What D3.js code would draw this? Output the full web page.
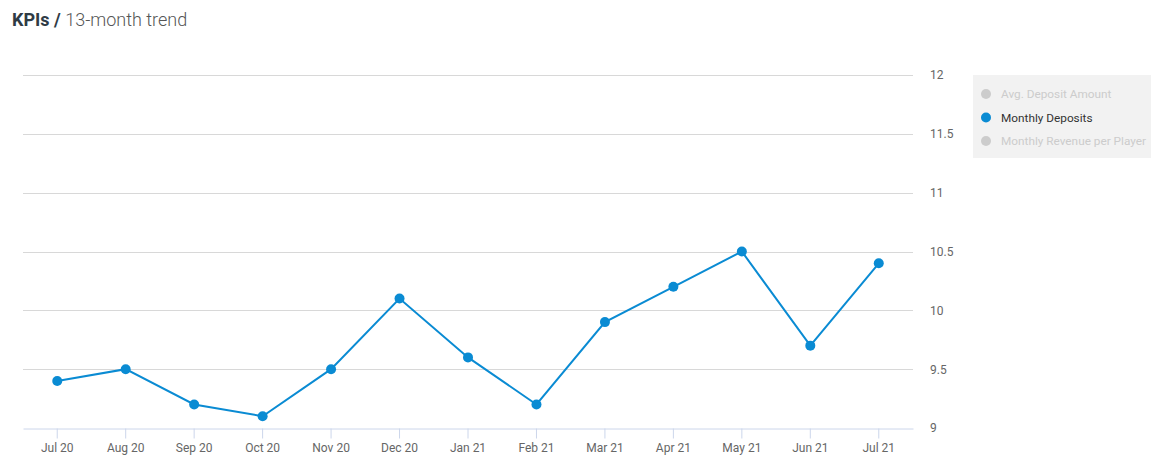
<!DOCTYPE html>
<html><head><meta charset="utf-8">
<script src="https://cdn.jsdelivr.net/npm/d3@7/dist/d3.min.js"></script>
<style>body{margin:0;background:#fff;font-family:Roboto,"Noto Sans",sans-serif;}</style>
</head><body>
<svg id="c" width="1155" height="463"></svg>
<script>
const categories = ["Jul 20","Aug 20","Sep 20","Oct 20","Nov 20","Dec 20","Jan 21","Feb 21","Mar 21","Apr 21","May 21","Jun 21","Jul 21"];
const monthlyDeposits = [9.4,9.5,9.2,9.1,9.5,10.1,9.6,9.2,9.9,10.2,10.5,9.7,10.4];
const yTicks = [9,9.5,10,10.5,11,11.5,12];
const legendItems = ["Avg. Deposit Amount","Monthly Deposits","Monthly Revenue per Player"];
const legendActive = [false,true,false];

(function(){
const svg = d3.select("#c");
const pl = 23, pr = 913, pt = 75, pb = 428;
const color = "#0a8bd3";

// Title
const t = svg.append("text").attr("x",12).attr("y",26).attr("font-size",18).attr("fill","#2f3b45");
t.append("tspan").attr("font-weight","bold").text("KPIs / ");
t.append("tspan").attr("fill","#555").attr("font-weight","300").text("13-month trend");

const x = d3.scaleBand().domain(categories).range([pl,pr]);
const y = d3.scaleLinear().domain([9,12]).range([pb,pt]);

// grid
svg.append("g").selectAll("line").data(yTicks.filter(d=>d>9)).join("line")
  .attr("x1",pl).attr("x2",pr).attr("y1",d=>Math.round(y(d))+0.5).attr("y2",d=>Math.round(y(d))+0.5)
  .attr("stroke","#d8d8d8").attr("stroke-width",1);

// y axis labels (right)
const ya = svg.append("g").attr("transform",`translate(${pr},0)`)
  .call(d3.axisRight(y).tickValues(yTicks).tickSize(0).tickPadding(17).tickFormat(d3.format("")));
ya.select(".domain").remove();
ya.selectAll("text").attr("font-size",12).attr("fill","#666").attr("font-family","Roboto,sans-serif");

// x axis
const xa = svg.append("g").attr("transform",`translate(0,${pb+0.5})`)
  .call(d3.axisBottom(x).tickSize(10).tickPadding(5).tickSizeOuter(0));
xa.select(".domain").attr("stroke","#ccd6eb");
xa.selectAll(".tick line").attr("stroke","#ccd6eb");
xa.selectAll("text").attr("font-size",12).attr("fill","#666").attr("font-family","Roboto,sans-serif");

// line
const cx = d => x(d) + x.bandwidth()/2;
svg.append("path").datum(monthlyDeposits)
  .attr("d", d3.line().x((d,i)=>cx(categories[i])).y(d=>y(d)))
  .attr("fill","none").attr("stroke",color).attr("stroke-width",2);
svg.append("g").selectAll("circle").data(monthlyDeposits).join("circle")
  .attr("cx",(d,i)=>cx(categories[i])).attr("cy",d=>y(d)).attr("r",5).attr("fill",color);

// legend
const lg = svg.append("g");
lg.append("rect").attr("x",973).attr("y",75).attr("width",178).attr("height",83).attr("fill","#f2f2f2");
legendItems.forEach((name,i)=>{
  const yy = 94 + i*23.5;
  lg.append("circle").attr("cx",986).attr("cy",yy).attr("r",5).attr("fill",legendActive[i]?color:"#cccccc");
  lg.append("text").attr("x",1001).attr("y",yy+4).attr("font-size",11.8)
    .attr("fill",legendActive[i]?"#333":"#cccccc").attr("font-family","Roboto,sans-serif").text(name);
});
})();
</script>
</body></html>
